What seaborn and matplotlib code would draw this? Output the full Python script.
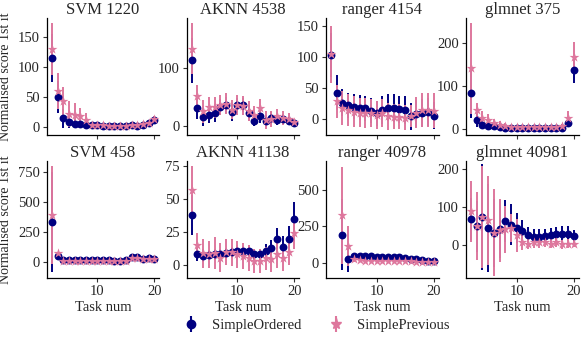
import matplotlib
matplotlib.use("Agg")
import matplotlib.pyplot as plt
from matplotlib.lines import Line2D
from matplotlib.legend_handler import HandlerTuple
import pandas as pd
import seaborn as sns

tasks = list(range(2, 21))
tasks_late = list(range(4, 21))  # ranger 40978 has no runs before task 4

# SVM 1220
svm1220_ord = [115, 49, 14, 7, 5, 5, 3, 2, 2, 1, 1, 1, 1, 1, 2, 1, 3, 6, 11]
svm1220_ord_err = [40, 27, 16, 9, 7, 6, 5, 3, 3, 2, 2, 2, 2, 2, 2, 2, 3, 4, 4]
svm1220_prev = [130, 59, 42, 21, 20, 17, 11, 3, 2, 2, 1, 1, 1, 1, 2, 2, 4, 6, 12]
svm1220_prev_err = [43, 30, 25, 21, 19, 14, 11, 4, 3, 3, 3, 3, 3, 3, 3, 3, 3, 4, 5]

# AKNN 4538
aknn4538_ord = [113, 31, 15, 19, 22, 32, 36, 23, 36, 36, 22, 9, 17, 9, 13, 10, 12, 8, 5]
aknn4538_ord_err = [39, 20, 15, 15, 15, 14, 14, 15, 12, 12, 14, 10, 12, 10, 10, 8, 8, 7, 5]
aknn4538_prev = [133, 51, 25, 32, 32, 36, 38, 28, 36, 35, 25, 19, 31, 10, 12, 16, 13, 12, 6]
aknn4538_prev_err = [44, 19, 20, 18, 18, 18, 18, 17, 17, 17, 17, 15, 15, 15, 14, 13, 12, 10, 6]

# ranger 4154
ranger4154_ord = [103, 43, 27, 23, 20, 19, 18, 14, 10, 15, 19, 18, 16, 15, 5, 9, 10, 12, 6]
ranger4154_ord_err = [35, 28, 22, 20, 20, 20, 20, 20, 20, 22, 22, 22, 22, 22, 22, 22, 22, 22, 22]
ranger4154_prev = [104, 29, 18, 15, 12, 11, 10, 10, 7, 10, 5, 4, 4, 3, 5, 11, 15, 15, 14]
ranger4154_prev_err = [45, 26, 27, 25, 25, 24, 24, 22, 22, 22, 22, 20, 20, 20, 18, 25, 28, 28, 28]

# glmnet 375
glmnet375_ord = [84, 19, 9, 6, 5, 3, 2, 2, 2, 1, 1, 1, 1, 1, 1, 1, 2, 14, 137]
glmnet375_ord_err = [60, 15, 10, 7, 6, 5, 4, 3, 3, 3, 3, 3, 3, 3, 3, 3, 4, 10, 30]
glmnet375_prev = [141, 44, 24, 19, 12, 9, 6, 4, 3, 3, 3, 3, 3, 3, 3, 3, 5, 24, 167]
glmnet375_prev_err = [106, 16, 17, 14, 10, 8, 6, 4, 4, 3, 3, 3, 3, 3, 3, 3, 5, 16, 35]

# SVM 458
svm458_ord = [333, 50, 14, 12, 12, 12, 12, 12, 12, 12, 10, 8, 8, 10, 40, 42, 25, 35, 22]
svm458_ord_err = [416, 15, 8, 8, 8, 8, 8, 8, 8, 8, 8, 8, 8, 8, 12, 12, 12, 12, 10]
svm458_prev = [394, 69, 8, 8, 8, 8, 8, 8, 8, 8, 6, 5, 5, 8, 28, 30, 20, 25, 20]
svm458_prev_err = [410, 15, 6, 6, 6, 6, 6, 6, 6, 6, 6, 6, 6, 6, 10, 10, 10, 10, 8]

# AKNN 41138
aknn41138_ord = [38, 8, 7, 7.5, 8, 8.5, 9, 9.6, 11, 10.5, 11, 8, 8, 11, 13, 20, 14, 20, 35]
aknn41138_ord_err = [15, 5, 5, 4, 4, 4, 4, 4, 4, 4, 4, 4, 4, 5, 6, 8, 8, 10, 13]
aknn41138_prev = [57, 15, 9, 8, 9, 5.5, 10, 9.6, 8, 7, 5.5, 3, 3, 5, 4.5, 8, 5.5, 10, 24]
aknn41138_prev_err = [18, 9, 11, 10, 12, 11, 10, 10, 10, 10, 10, 9, 9, 9, 10, 10, 10, 10, 12]

# ranger 40978
ranger40978_ord = [193, 23, 45, 45, 44, 43, 42, 42, 41, 40, 38, 33, 28, 22, 18, 15, 10]
ranger40978_ord_err = [243, 89, 18, 18, 18, 18, 18, 18, 18, 18, 18, 16, 15, 14, 12, 12, 10]
ranger40978_prev = [325, 114, 25, 18, 15, 15, 15, 15, 15, 15, 15, 12, 10, 8, 8, 6, 5]
ranger40978_prev_err = [335, 135, 20, 15, 14, 14, 14, 14, 14, 14, 14, 12, 12, 10, 10, 8, 8]

# glmnet 40981
glmnet40981_ord = [68, 50, 74, 45, 32, 42, 63, 54, 45, 37, 26, 22, 22, 23, 26, 28, 29, 30, 23]
glmnet40981_ord_err = [55, 67, 139, 115, 89, 77, 55, 55, 40, 28, 22, 20, 20, 20, 20, 20, 20, 20, 18]
glmnet40981_prev = [89, 50, 74, 65, 33, 39, 42, 45, 26, 7, 4, 7, 7, 9, 4, 7, 2, 4, 4]
glmnet40981_prev_err = [81, 89, 135, 118, 115, 83, 62, 38, 44, 19, 15, 15, 15, 15, 12, 12, 12, 12, 10]

panels = [
    ("SVM 1220", tasks, svm1220_ord, svm1220_ord_err, svm1220_prev, svm1220_prev_err),
    ("AKNN 4538", tasks, aknn4538_ord, aknn4538_ord_err, aknn4538_prev, aknn4538_prev_err),
    ("ranger 4154", tasks, ranger4154_ord, ranger4154_ord_err, ranger4154_prev, ranger4154_prev_err),
    ("glmnet 375", tasks, glmnet375_ord, glmnet375_ord_err, glmnet375_prev, glmnet375_prev_err),
    ("SVM 458", tasks, svm458_ord, svm458_ord_err, svm458_prev, svm458_prev_err),
    ("AKNN 41138", tasks, aknn41138_ord, aknn41138_ord_err, aknn41138_prev, aknn41138_prev_err),
    ("ranger 40978", tasks_late, ranger40978_ord, ranger40978_ord_err, ranger40978_prev, ranger40978_prev_err),
    ("glmnet 40981", tasks, glmnet40981_ord, glmnet40981_ord_err, glmnet40981_prev, glmnet40981_prev_err),
]

# y range and ticks of each panel, as in the original
ylims = [(-14, 182), (-16, 187), (-25, 163), (-15, 259),
         (-138, 847), (-10, 79.3), (-106, 700), (-87, 222)]
yticks = [[0, 50, 100, 150], [0, 100], [0, 50, 100, 150], [0, 100, 200],
          [0, 250, 500, 750], [0, 25, 50, 75], [0, 250, 500], [0, 100, 200]]

navy = "#000080"
pink = "#DE779D"

sns.set_theme(style="ticks")
plt.rcParams["font.family"] = ["Liberation Serif", "DejaVu Serif"]
plt.rcParams["font.size"] = 10.5

fig = plt.figure(figsize=(5.81, 3.40), dpi=100)
lefts = [0.0804, 0.3213, 0.561, 0.802]
bottoms = [0.603, 0.182]
w, h = 0.194, 0.345

for i, (name, x, o, oe, p, pe) in enumerate(panels):
    row, col = divmod(i, 4)
    ax = fig.add_axes([lefts[col], bottoms[row], w, h])
    df = pd.concat([
        pd.DataFrame({"task": x, "score": o, "err": oe, "method": "SimpleOrdered"}),
        pd.DataFrame({"task": x, "score": p, "err": pe, "method": "SimplePrevious"}),
    ])
    d_o = df[df.method == "SimpleOrdered"]
    d_p = df[df.method == "SimplePrevious"]
    ax.vlines(d_o.task, d_o.score - d_o.err, d_o.score + d_o.err, color=navy, lw=1.4, zorder=2)
    ax.vlines(d_p.task, d_p.score - d_p.err, d_p.score + d_p.err, color=pink, lw=1.4, zorder=2.1)
    sns.scatterplot(data=d_o, x="task", y="score", color=navy, marker="o", s=32,
                    linewidth=0, legend=False, ax=ax, zorder=3)
    sns.scatterplot(data=d_p, x="task", y="score", color=pink, marker="*", s=55,
                    linewidth=0, legend=False, ax=ax, zorder=3.1)
    ax.set_xlim(1.1, 20.9)
    ax.set_ylim(*ylims[i])
    ax.set_xticks([10, 20])
    ax.set_yticks(yticks[i])
    ax.set_title(name, fontsize=12, pad=3)
    ax.tick_params(length=3, width=0.8, pad=2, labelsize=10.5, color="#333333")
    for s in ["left", "bottom"]:
        ax.spines[s].set_linewidth(0.9)
        ax.spines[s].set_color("black")
    sns.despine(ax=ax)
    if row == 0:
        ax.set_xticklabels([])
        ax.set_xlabel("")
    else:
        ax.set_xlabel("Task num", fontsize=10.5, labelpad=2)
    if col == 0:
        ax.set_ylabel("Normalised score 1st it", fontsize=10, labelpad=4)
    else:
        ax.set_ylabel("")

handles = [
    (Line2D([], [], color=navy, marker="|", ms=12, mew=1.5, ls=""),
     Line2D([], [], color=navy, marker="o", ms=6, ls="")),
    (Line2D([], [], color=pink, marker="|", ms=12, mew=1.5, ls=""),
     Line2D([], [], color=pink, marker="*", ms=8, ls="")),
]
fig.legend(handles, ["SimpleOrdered", "SimplePrevious"],
           handler_map={tuple: HandlerTuple(ndivide=1)},
           loc="center", bbox_to_anchor=(0.545, 0.044), ncol=2, frameon=False,
           handlelength=1.0, handletextpad=0.95, columnspacing=1.9, fontsize=10.5)

fig.savefig("out.png", dpi=100)
